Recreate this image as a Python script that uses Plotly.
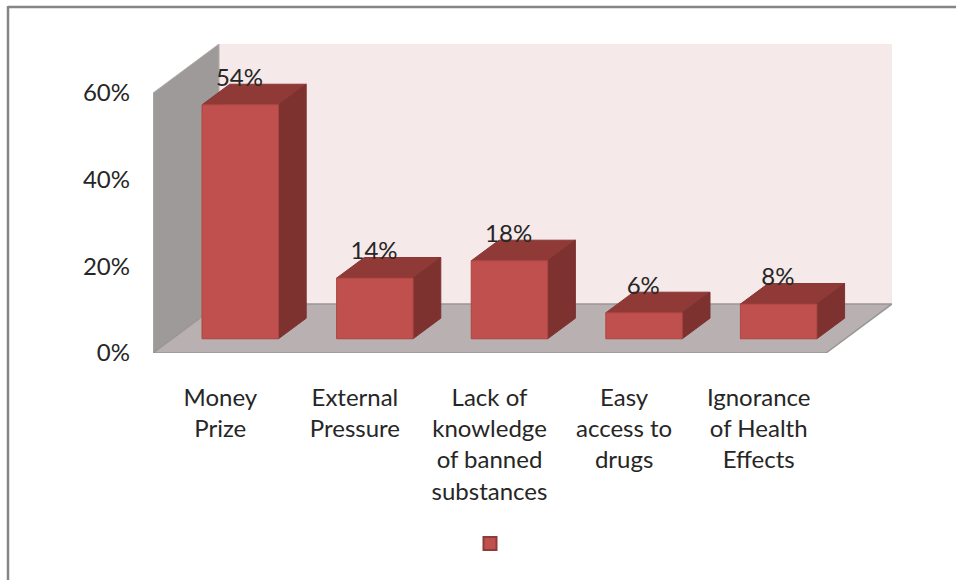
import plotly.graph_objects as go

categories = ["Money<br>Prize", "External<br>Pressure", "Lack of<br>knowledge<br>of banned<br>substances",
              "Easy<br>access to<br>drugs", "Ignorance<br>of Health<br>Effects"]
values = [54, 14, 18, 6, 8]
labels = ["54%", "14%", "18%", "6%", "8%"]
y_ticks = [0, 20, 40, 60]
y_tick_labels = ["0%", "20%", "40%", "60%"]
y_max = 60

W, H = 956, 580
L, R, T, B = 153, 892, 44, 353          # plot rectangle, pixels
CAT_PX = 134.6                          # pixels per category
PCT_PX = 4.33                           # pixels per percent
DEPTH_X = 66 / CAT_PX                   # oblique shift of the full depth, in axis units
DEPTH_Y = 49 / PCT_PX
BAR_W = 0.568
BAR_SHIFT = 0.006
Z0, Z1 = 0.29, 0.71                     # bar's front and back in depth
FONT = "Lato"


def proj(x, y, z):
    return x + z * DEPTH_X, y + z * DEPTH_Y


def poly(points):
    xs, ys = [], []
    for p in points:
        a, b = proj(*p)
        xs.append(a)
        ys.append(b)
    return xs + [xs[0]], ys + [ys[0]]


def gather(polys):
    xs, ys = [], []
    for a, b in polys:
        xs += a + [None]
        ys += b + [None]
    return xs, ys


def face(polys, fill, line, width=1):
    xs, ys = gather(polys)
    return go.Scatter(x=xs, y=ys, mode="lines", fill="toself", fillcolor=fill,
                      line=dict(color=line, width=width), hoverinfo="skip", showlegend=False)


n = len(values)
x0, x1 = -0.5, n - 0.5
fig = go.Figure()

back = poly([(x0, 0, 1), (x1, 0, 1), (x1, y_max, 1), (x0, y_max, 1)])
fig.add_trace(face([back], "#F5E9E9", "#F5E9E9", 0))
left = poly([(x0, 0, 0), (x0, 0, 1), (x0, y_max, 1), (x0, y_max, 0)])
fig.add_trace(face([left], "#9E9A9A", "#B0ADAD"))
floor = poly([(x0, 0, 0), (x1, 0, 0), (x1, 0, 1), (x0, 0, 1)])
fig.add_trace(face([floor], "#B9B1B1", "#9A9696", 1.5))

tops, sides, fronts = [], [], []
for i, v in enumerate(values):
    a, b = i + BAR_SHIFT - BAR_W / 2, i + BAR_SHIFT + BAR_W / 2
    tops.append(poly([(a, v, Z0), (b, v, Z0), (b, v, Z1), (a, v, Z1)]))
    sides.append(poly([(b, 0, Z0), (b, 0, Z1), (b, v, Z1), (b, v, Z0)]))
    fronts.append(poly([(a, 0, Z0), (b, 0, Z0), (b, v, Z0), (a, v, Z0)]))
fig.add_trace(face(tops, "#903A37", "#8A3634"))
fig.add_trace(face(sides, "#7D3230", "#7D3230"))
fig.add_trace(face(fronts, "#C0504D", "#AC4542", 1))

tx, ty = [], []
for i, v in enumerate(values):
    a, b = proj(i, v, Z0)
    tx.append(a)
    ty.append(b + 25 / PCT_PX)
fig.add_trace(go.Scatter(x=tx, y=ty, text=labels, mode="text", textposition="middle center",
                         textfont=dict(family=FONT, size=24, color="#262626"),
                         hoverinfo="skip", showlegend=False))

fig.add_trace(go.Scatter(x=[None], y=[None], mode="markers", name=" ", showlegend=True,
                         marker=dict(symbol="square", size=13, color="#C0504D",
                                     line=dict(color="#8E3A38", width=2))))


def px(v):
    return (v - L) / (R - L)


def py(v):
    return (B - v) / (B - T)


fig.update_layout(
    width=W, height=H, autosize=False,
    margin=dict(l=L, r=W - R, t=T, b=H - B, pad=0),
    paper_bgcolor="white", plot_bgcolor="white",
    font=dict(family=FONT, size=24, color="#262626"),
    xaxis=dict(range=[x0, x1 + DEPTH_X], tickmode="array", tickvals=list(range(n)), ticktext=categories,
               showgrid=False, zeroline=False, showline=False, ticks="", ticklabelstandoff=28,
               tickangle=0, fixedrange=True),
    yaxis=dict(range=[0, y_max + DEPTH_Y], tickmode="array", tickvals=y_ticks, ticktext=y_tick_labels,
               showgrid=False, zeroline=False, showline=False, ticks="", ticklabelstandoff=22,
               fixedrange=True),
    legend=dict(x=px(470), y=py(544), xanchor="left", yanchor="middle", bgcolor="rgba(0,0,0,0)",
                font=dict(size=14)),
    shapes=[
        dict(type="line", xref="paper", yref="paper", x0=px(8), x1=px(956), y0=py(7), y1=py(7),
             line=dict(color="#858585", width=2.5)),
        dict(type="line", xref="paper", yref="paper", x0=px(8), x1=px(8), y0=py(6), y1=py(580),
             line=dict(color="#858585", width=2.5)),
    ],
)

fig.write_html("out.html", post_script="document.body.style.margin='0';", config={"displayModeBar": False})
